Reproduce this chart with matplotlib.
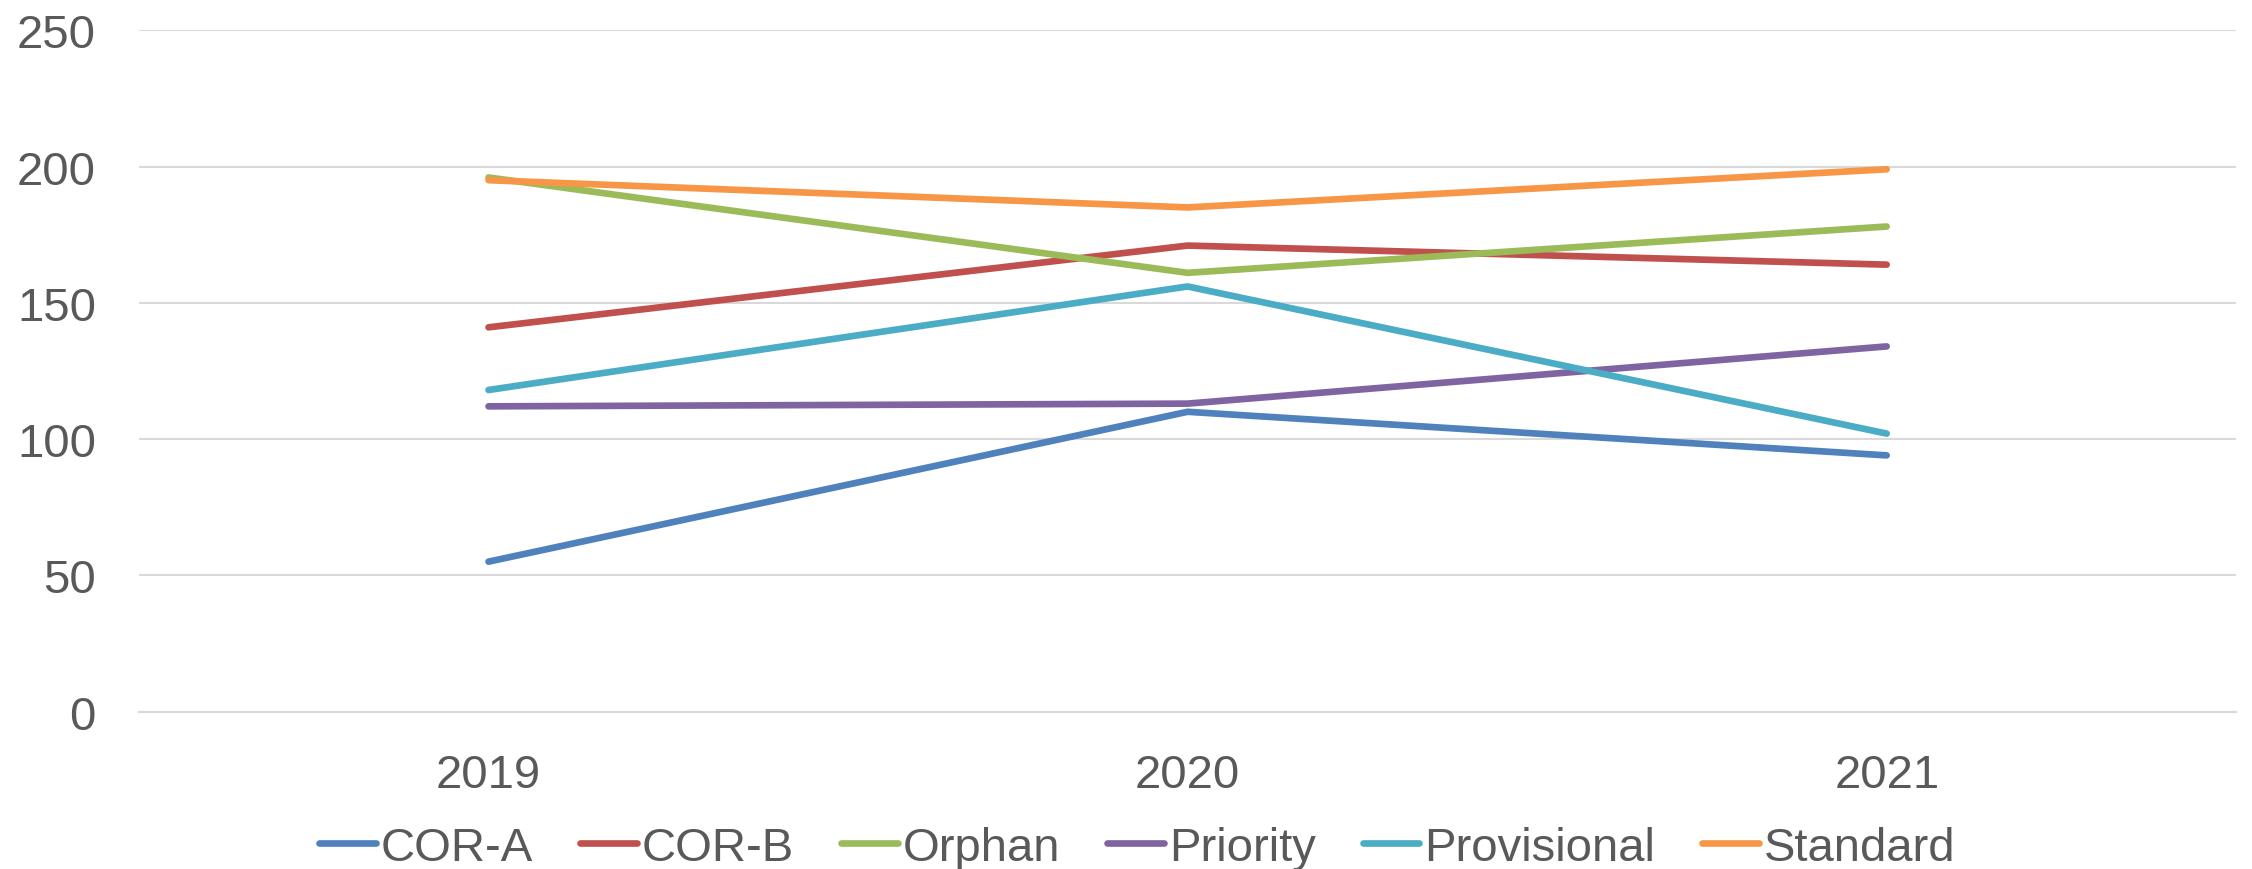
import matplotlib.pyplot as plt

plt.rcParams['font.family'] = ['Liberation Sans', 'DejaVu Sans']

# Yearly counts per designation type
years = ["2019", "2020", "2021"]
cor_a = [55, 110, 94]
cor_b = [141, 171, 164]
orphan = [196, 161, 178]
priority = [112, 113, 134]
provisional = [118, 156, 102]
standard = [195, 185, 199]

series = [
    ("COR-A", cor_a, "#4F81BD"),
    ("COR-B", cor_b, "#C0504D"),
    ("Orphan", orphan, "#9BBB59"),
    ("Priority", priority, "#8064A2"),
    ("Provisional", provisional, "#4BACC6"),
    ("Standard", standard, "#F79646"),
]

text_color = "#595959"

fig = plt.figure(figsize=(22.52, 8.7), dpi=100)
ax = fig.add_axes([0.0617, 0.181, 0.9313, 0.783])

x = range(len(years))
for name, vals, color in series:
    ax.plot(x, vals, color=color, linewidth=4.8, label=name,
            solid_capstyle="round", solid_joinstyle="round")

ax.set_xlim(-0.5, 2.5)
ax.set_ylim(0, 250)
ax.set_yticks([0, 50, 100, 150, 200, 250])
ax.set_xticks(list(x))
ax.set_xticklabels(years)

ax.grid(axis="y", color="#D9D9D9", linewidth=1.5)
ax.set_axisbelow(True)
for side in ["top", "right", "left"]:
    ax.spines[side].set_visible(False)
ax.spines["bottom"].set_color("#D9D9D9")
ax.spines["bottom"].set_linewidth(1.5)

ax.tick_params(axis="both", length=0, labelsize=34, colors=text_color)
ax.tick_params(axis="y", pad=31)
ax.tick_params(axis="x", pad=30)

leg = fig.legend(loc="lower center", bbox_to_anchor=(0.505, -0.05), ncol=6,
                 frameon=False, fontsize=34, handlelength=1.2,
                 handletextpad=0.1, columnspacing=1.0)
for t in leg.get_texts():
    t.set_color(text_color)
for h in leg.get_lines():
    h.set_linewidth(4.8)

fig.savefig("out.png", dpi=100)
